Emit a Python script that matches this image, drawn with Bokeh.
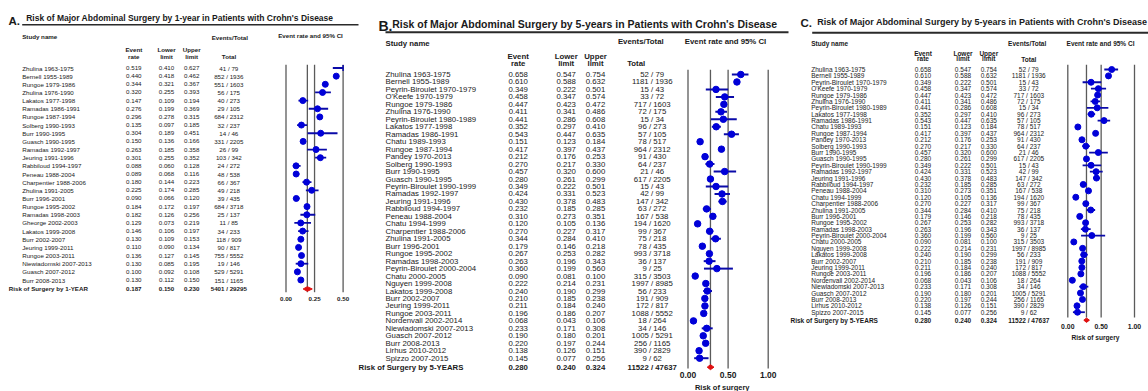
import math
from bokeh.plotting import figure
from bokeh.models import Range1d, ColumnDataSource
from bokeh.core.properties import value
from bokeh.embed import file_html
from bokeh.resources import INLINE

# ---------------- data: panel A (risk by 1 year) ----------------
title_A = "Risk of Major Abdominal Surgery by 1-year in Patients with Crohn's Disease"
study_A = ["Zhulina 1963-1975", "Bernell 1955-1989", "Rungoe 1979-1986", "Zhulina 1976-1990",
           "Lakatos 1977-1998", "Ramadas 1986-1991", "Rungoe 1987-1994", "Solberg 1990-1993",
           "Burr 1990-1995", "Guasch 1990-1995", "Ramadas 1992-1997", "Jeuring 1991-1996",
           "Rabbiloud 1994-1997", "Peneau 1988-2004", "Charpentier 1988-2006", "Zhulina 1991-2005",
           "Burr 1996-2001", "Rungoe 1995-2002", "Ramadas 1998-2003", "Gheorge 2002-2003",
           "Lakatos 1999-2008", "Burr 2002-2007", "Jeuring 1999-2011", "Rungoe 2003-2011",
           "Niewiadomski 2007-2013", "Guasch 2007-2012", "Burr 2008-2013"]
rate_A = [0.519, 0.440, 0.344, 0.320, 0.147, 0.276, 0.296, 0.135, 0.304, 0.150, 0.263, 0.301, 0.088, 0.089,
          0.180, 0.225, 0.090, 0.184, 0.182, 0.129, 0.146, 0.130, 0.110, 0.136, 0.130, 0.100, 0.130]
lower_A = [0.410, 0.418, 0.321, 0.255, 0.109, 0.199, 0.278, 0.097, 0.189, 0.136, 0.185, 0.255, 0.060, 0.068,
           0.144, 0.174, 0.066, 0.172, 0.126, 0.073, 0.106, 0.109, 0.090, 0.127, 0.085, 0.092, 0.112]
upper_A = [0.627, 0.462, 0.367, 0.393, 0.194, 0.369, 0.315, 0.185, 0.451, 0.166, 0.358, 0.352, 0.128, 0.116,
           0.223, 0.285, 0.120, 0.197, 0.256, 0.219, 0.197, 0.153, 0.134, 0.145, 0.195, 0.108, 0.150]
events_A = [41, 852, 551, 56, 40, 29, 684, 32, 14, 331, 26, 103, 24, 48, 66, 49, 39, 684, 25, 11, 34, 118,
            90, 755, 19, 529, 151]
total_A = [79, 1936, 1603, 175, 273, 105, 2312, 237, 46, 2205, 99, 342, 272, 538, 367, 218, 435, 3718, 137,
           85, 233, 909, 817, 5552, 146, 5291, 1165]
pooled_label_A = "Risk of Surgery by 1-YEAR"
pooled_rate_A = [0.187, 0.150, 0.230]
pooled_count_A = [5401, 29295]
ticks_A = [0.0, 0.25, 0.50]
tick_labels_A = ["0.00", "0.25", "0.50"]

# ---------------- data: panels B and C (risk by 5 years; C repeats B) ----------------
title_B = "Risk of Major Abdominal Surgery by 5-years in Patients with Crohn's Disease"
study_B = ["Zhulina 1963-1975", "Bernell 1955-1989", "Peyrin-Biroulet 1970-1979", "O'Keefe 1970-1979",
           "Rungoe 1979-1986", "Zhulina 1976-1990", "Peyrin-Biroulet 1980-1989", "Lakatos 1977-1998",
           "Ramadas 1986-1991", "Chatu 1989-1993", "Rungoe 1987-1994", "Pandey 1970-2013",
           "Solberg 1990-1993", "Burr 1990-1995", "Guasch 1990-1995", "Peyrin-Biroulet 1990-1999",
           "Ramadas 1992-1997", "Jeuring 1991-1996", "Rabbiloud 1994-1997", "Peneau 1988-2004",
           "Chatu 1994-1999", "Charpentier 1988-2006", "Zhulina 1991-2005", "Burr 1996-2001",
           "Rungoe 1995-2002", "Ramadas 1998-2003", "Peyrin-Biroulet 2000-2004", "Chatu 2000-2005",
           "Nguyen 1999-2008", "Lakatos 1999-2008", "Burr 2002-2007", "Jeuring 1999-2011",
           "Rungoe 2003-2011", "Nordenvall 2002-2014", "Niewiadomski 2007-2013", "Guasch 2007-2012",
           "Burr 2008-2013", "Lirhus 2010-2012", "Spizzo 2007-2015"]
rate_B = [0.658, 0.610, 0.349, 0.458, 0.447, 0.411, 0.441, 0.352, 0.543, 0.151, 0.417, 0.212, 0.270,
          0.457, 0.280, 0.349, 0.424, 0.430, 0.232, 0.310, 0.120, 0.270, 0.344, 0.179, 0.267, 0.263,
          0.360, 0.090, 0.222, 0.240, 0.210, 0.211, 0.196, 0.068, 0.233, 0.190, 0.220, 0.138, 0.145]
lower_B = [0.547, 0.588, 0.222, 0.347, 0.423, 0.341, 0.286, 0.297, 0.447, 0.123, 0.397, 0.176, 0.217,
           0.320, 0.261, 0.222, 0.331, 0.378, 0.185, 0.273, 0.105, 0.227, 0.284, 0.146, 0.253, 0.196,
           0.199, 0.081, 0.214, 0.190, 0.185, 0.184, 0.186, 0.043, 0.171, 0.180, 0.197, 0.126, 0.077]
upper_B = [0.754, 0.632, 0.501, 0.574, 0.472, 0.486, 0.608, 0.410, 0.635, 0.184, 0.437, 0.253, 0.330,
           0.600, 0.299, 0.501, 0.523, 0.483, 0.285, 0.351, 0.136, 0.317, 0.410, 0.218, 0.282, 0.343,
           0.560, 0.100, 0.231, 0.299, 0.238, 0.240, 0.207, 0.106, 0.308, 0.201, 0.244, 0.151, 0.256]
events_B = [52, 1181, 15, 33, 717, 72, 15, 96, 57, 78, 964, 91, 64, 21, 617, 15, 42, 147, 63, 167, 194,
            99, 75, 78, 993, 36, 9, 315, 1997, 56, 191, 172, 1088, 18, 34, 1005, 256, 390, 9]
total_B = [79, 1936, 43, 72, 1603, 175, 34, 273, 105, 517, 2312, 430, 237, 46, 2205, 43, 99, 342, 272,
           538, 1620, 367, 218, 435, 3718, 137, 25, 3503, 8985, 233, 909, 817, 5552, 264, 146, 5291,
           1165, 2829, 62]
pooled_label_B = "Risk of Surgery by 5-YEARS"
pooled_rate_B = [0.280, 0.240, 0.324]
pooled_count_B = [11522, 47637]
ticks_B = [0.0, 0.50, 1.00]
tick_labels_B = ["0.00", "0.50", "1.00"]
axis_label = "Risk of surgery"

# ---------------- figure ----------------
FONT = "Liberation Sans"
TXT = "#1a1a1a"
X0, X1, Y0, Y1 = 0, 1148, 0, 391

p = figure(width=X1 - X0, height=Y1 - Y0, x_range=Range1d(X0, X1), y_range=Range1d(Y1, Y0),
           output_backend="svg", toolbar_location=None, min_border=0,
           x_axis_location=None, y_axis_location=None)
p.grid.visible = False
p.outline_line_color = None
p.background_fill_color = "white"
p.border_fill_color = "white"

xr_extra, yr_extra = {}, {}


def txt(x, y, s, size, bold=False, align="left", baseline="middle", xr="default", yr="default"):
    src = ColumnDataSource(dict(x=list(x), y=list(y), t=list(s)))
    p.text(x="x", y="y", text="t", source=src, text_font=value(FONT), text_font_size=f"{size}px",
           text_font_style="bold" if bold else "normal", text_align=align, text_baseline=baseline,
           text_color=TXT, x_range_name=xr, y_range_name=yr)


def panel(key, letter, title, names, rate, lower, upper, events, total, plabel, prate, pcount,
          ticks, tlabels, L):
    n = len(names)
    fs = L["fs"]
    rk, fk = "r" + key, "f" + key
    # row-index scale and forest value scale (anchored to panel layout)
    row0, step = L["row0"], L["step"]
    yr_extra[rk] = Range1d(start=(Y1 - row0) / step, end=(Y0 - row0) / step)
    px0, px1 = L["fx"]
    ppu = (px1 - px0) / (ticks[-1] - ticks[0])
    xr_extra[fk] = Range1d(start=ticks[0] + (X0 - px0) / ppu, end=ticks[0] + (X1 - px0) / ppu)

    rows = list(range(n))
    pos = n - 1 + L["gap"]

    # title + rule
    txt([L["letter_x"]], [L["letter_y"]], [letter], L["letter_fs"], bold=True, baseline="alphabetic")
    txt([L["title_x"]], [L["title_y"]], [title], L["title_fs"], bold=True, baseline="alphabetic")
    p.segment(x0=[L["rule"][0]], x1=[L["rule"][1]], y0=[L["rule"][2]], y1=[L["rule"][2]],
              line_color="#2a2a2a", line_width=L["rule_w"])

    # headers
    txt([L["name_x"]], [L["h_study"]], ["Study name"], fs, bold=True)
    txt([L["evtot_x"]], [L["h_evtot"]], ["Events/Total"], fs, bold=True, align="center")
    txt([L["ci_x"]], [L["h_ci"]], ["Event rate and 95% CI"], fs, bold=True, align="center")
    cx = [L["rate_x"], L["low_x"], L["up_x"]]
    txt(cx, [L["h1"]] * 3, ["Event", "Lower", "Upper"], fs, bold=True, align="center")
    txt(cx, [L["h2"]] * 3, ["rate", "limit", "limit"], fs, bold=True, align="center")
    txt([L["tot_hx"]], [L["h2"] + L["tot_dy"]], ["Total"], fs, bold=True, align="center")

    # table rows
    txt([L["name_x"]] * n, rows, names, fs, yr=rk)
    txt([L["rate_x"]] * n, rows, [f"{v:.3f}" for v in rate], fs, align="center", yr=rk)
    txt([L["low_x"]] * n, rows, [f"{v:.3f}" for v in lower], fs, align="center", yr=rk)
    txt([L["up_x"]] * n, rows, [f"{v:.3f}" for v in upper], fs, align="center", yr=rk)
    txt([L["tot_x"]] * n, rows, [f"{e} / {t}" for e, t in zip(events, total)], fs, align="center", yr=rk)

    # pooled row
    txt([L["sum_x"]], [pos], [plabel], fs, bold=True, yr=rk)
    txt(cx + [L["tot_x"]], [pos] * 4, [f"{v:.3f}" for v in prate] + [f"{pcount[0]} / {pcount[1]}"],
        fs, bold=True, align="center", yr=rk)

    # forest: reference lines
    vl = sorted(set(ticks + [prate[0]]))
    p.segment(x0=vl, x1=vl, y0=[L["vtop"]] * len(vl), y1=[L["vbot"]] * len(vl),
              line_color="#5a5a5a", line_width=1.3, x_range_name=fk)
    xmax = ticks[-1]
    p.segment(x0=lower, x1=[min(u, xmax) for u in upper], y0=rows, y1=rows,
              line_color="#0a0aa8", line_width=L["ci_w"], x_range_name=fk, y_range_name=rk)
    keep = [i for i in rows if rate[i] <= xmax]
    p.scatter(x=[rate[i] for i in keep], y=keep, size=L["dot"], marker="circle",
              fill_color="#0000d8", line_color="#0000d8", x_range_name=fk, y_range_name=rk)
    clipped = [i for i in rows if upper[i] > xmax]
    if clipped:
        p.scatter(x=[xmax] * len(clipped), y=clipped, marker="dash", angle=math.pi / 2, size=6,
                  line_color="#0a0aa8", line_width=1.5, x_range_name=fk, y_range_name=rk)
    h = L["dia_h"] / step
    p.patch(x=[prate[1], prate[0], prate[2], prate[0]], y=[pos, pos - h, pos, pos + h],
            fill_color="#e01010", line_color="#e01010", line_width=1, x_range_name=fk, y_range_name=rk)
    # tick labels
    txt(ticks, [L["tick_y"]] * len(ticks), tlabels, L["tick_fs"], bold=True, align="center", xr=fk)
    if L.get("xlab"):
        txt([L["xlab"][0]], [L["xlab"][1]], [axis_label], L["xlab_fs"], bold=True, align="center")


layout_A = dict(fs=6.2, letter_x=8, letter_y=20.5, letter_fs=11.5, title_x=25.7, title_y=17.6, title_fs=8.5,
                rule=(21.7, 358, 24.3), rule_w=1.6,
                name_x=21.7, sum_x=8.3, rate_x=133.3, low_x=166, up_x=191.2, tot_x=228.3, tot_hx=228.5,
                evtot_x=229.3, ci_x=310, h_study=36, h_evtot=36.5, h_ci=34.5, h1=49, h2=56, tot_dy=0,
                row0=67.5, step=8.154, gap=1.1, fx=(285.5, 342.6), vtop=64.3, vbot=291.7,
                ci_w=1.8, dot=6, dia_h=2.3, tick_y=298.3, tick_fs=6.2, xlab=None)
layout_B = dict(fs=7.8, letter_x=378, letter_y=25, letter_fs=14, title_x=391.7, title_y=23.5, title_fs=10.5,
                rule=(385, 788, 31.7), rule_w=2,
                name_x=385, sum_x=358, rate_x=517.7, low_x=565.7, up_x=595, tot_x=651.7, tot_hx=635.7,
                evtot_x=640.3, ci_x=725, h_study=43.3, h_evtot=41.3, h_ci=41.3, h1=56, h2=62.7, tot_dy=0,
                row0=74, step=7.466, gap=1.2, fx=(687.5, 767.7), vtop=69.3, vbot=368,
                ci_w=2, dot=6.5, dia_h=2.5, tick_y=374.5, tick_fs=8.5, xlab=(721.7, 387.3), xlab_fs=7.5)
layout_C = dict(fs=6.5, letter_x=800, letter_y=22.7, letter_fs=11.5, title_x=816.7, title_y=21.3, title_fs=9.0,
                rule=(811.7, 1148, 32.3), rule_w=2,
                name_x=810.7, sum_x=790, rate_x=922.5, low_x=962.5, up_x=988.3, tot_x=1028.3, tot_hx=1028.3,
                evtot_x=1026.7, ci_x=1100, h_study=42.7, h_evtot=42.7, h_ci=42.7, h1=52.7, h2=58.3, tot_dy=1,
                row0=69, step=6.387, gap=1.25, fx=(1067.3, 1134), vtop=64.3, vbot=317,
                ci_w=1.8, dot=6, dia_h=2.2, tick_y=325.8, tick_fs=6.9, xlab=(1095, 337.3), xlab_fs=6.6)

panel("A", "A.", title_A, study_A, rate_A, lower_A, upper_A, events_A, total_A, pooled_label_A,
      pooled_rate_A, pooled_count_A, ticks_A, tick_labels_A, layout_A)
panel("B", "B.", title_B, study_B, rate_B, lower_B, upper_B, events_B, total_B, pooled_label_B,
      pooled_rate_B, pooled_count_B, ticks_B, tick_labels_B, layout_B)
panel("C", "C.", title_B, study_B, rate_B, lower_B, upper_B, events_B, total_B, pooled_label_B,
      pooled_rate_B, pooled_count_B, ticks_B, tick_labels_B, layout_C)

p.extra_x_ranges = xr_extra
p.extra_y_ranges = yr_extra

open("out.html", "w").write(file_html(p, INLINE))
